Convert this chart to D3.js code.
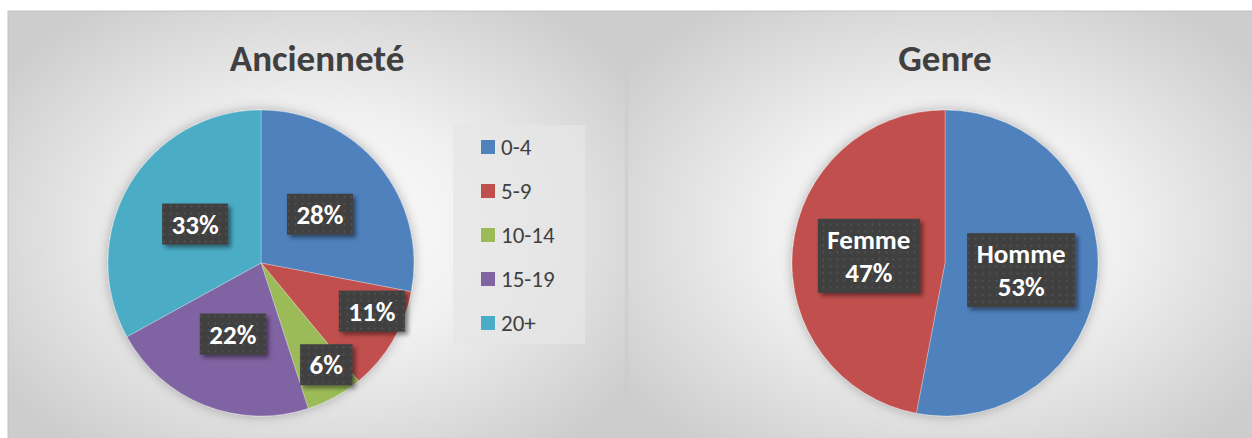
<!DOCTYPE html>
<html>
<head>
<meta charset="utf-8">
<script src="https://cdn.jsdelivr.net/npm/d3@7"></script>
<style>
  html, body { margin: 0; padding: 0; background: #ffffff; }
  svg { display: block; }
  text { font-family: Carlito, Calibri, Lato, "Open Sans", sans-serif; }
</style>
</head>
<body>
<div id="chart"></div>
<script>
// ---- data ----
const ancTitle = "Ancienneté";
const ancCategories = ["0-4", "5-9", "10-14", "15-19", "20+"];
const ancValues = [28, 11, 6, 22, 33];
const ancColors = ["#4f81bd", "#c0504d", "#9bbb59", "#8064a2", "#4bacc6"];

const genreTitle = "Genre";
const genreCategories = ["Homme", "Femme"];
const genreValues = [53, 47];
const genreColors = ["#4f81bd", "#c0504d"];

// ---- layout ----
const W = 1252, H = 438;
const svg = d3.select("#chart").append("svg").attr("width", W).attr("height", H);
const defs = svg.append("defs");

const grad = defs.append("radialGradient").attr("id", "bg")
  .attr("cx", "50%").attr("cy", "50%").attr("r", "62%");
grad.append("stop").attr("offset", "0%").attr("stop-color", "#ffffff");
grad.append("stop").attr("offset", "45%").attr("stop-color", "#f0f0f0");
grad.append("stop").attr("offset", "100%").attr("stop-color", "#cdcdcd");

const pat = defs.append("pattern").attr("id", "dots").attr("patternUnits", "userSpaceOnUse")
  .attr("width", 7).attr("height", 7);
pat.append("rect").attr("width", 7).attr("height", 7).attr("fill", "#404040");
pat.append("circle").attr("cx", 3.5).attr("cy", 3.5).attr("r", 0.9).attr("fill", "#575757");

const pieSh = defs.append("filter").attr("id", "pieShadow")
  .attr("x", "-20%").attr("y", "-20%").attr("width", "140%").attr("height", "140%");
pieSh.append("feDropShadow").attr("dx", 0).attr("dy", 0).attr("stdDeviation", 6)
  .attr("flood-color", "#000").attr("flood-opacity", 0.28);
const boxSh = defs.append("filter").attr("id", "boxShadow")
  .attr("x", "-30%").attr("y", "-30%").attr("width", "160%").attr("height", "160%");
boxSh.append("feDropShadow").attr("dx", 3).attr("dy", 3).attr("stdDeviation", 2.2)
  .attr("flood-color", "#000").attr("flood-opacity", 0.45);

const panels = [
  { x: 8, y: 11, w: 618, h: 440, tx: 317 },
  { x: 627, y: 11, w: 636, h: 440, tx: 945 }
];
panels.forEach(p => {
  svg.append("rect").attr("x", p.x).attr("y", p.y).attr("width", p.w).attr("height", p.h)
    .attr("fill", "url(#bg)").attr("stroke", "#c4c4c4").attr("stroke-width", 1);
});

const R = 153;
const pct = d3.format(".0%");

function drawPie(cx, cy, titleX, cats, vals, colors, title, twoLine) {
  const g = svg.append("g").attr("transform", `translate(${cx},${cy})`);
  const color = d3.scaleOrdinal().domain(cats).range(colors);
  const total = d3.sum(vals);
  const data = cats.map((c, i) => ({ cat: c, v: vals[i] }));
  const pie = d3.pie().value(d => d.v).sort(null).startAngle(0).endAngle(2 * Math.PI);
  const arcs = pie(data);
  const arc = d3.arc().innerRadius(0).outerRadius(R);

  const pg = g.append("g").attr("filter", "url(#pieShadow)");
  pg.selectAll("path").data(arcs).join("path")
    .attr("d", arc)
    .attr("fill", d => color(d.data.cat))
    .attr("stroke", "rgba(255,255,255,0.35)")
    .attr("stroke-width", 0.8);

  arcs.forEach(a => {
    const frac = a.data.v / total;
    let ang, rad;
    if (frac < 0.15) {
      ang = a.startAngle + (a.endAngle - a.startAngle) * 0.32;
      rad = R * 0.79;
    } else {
      ang = (a.startAngle + a.endAngle) / 2;
      rad = R * 0.5;
    }
    const lx = rad * Math.sin(ang), ly = -rad * Math.cos(ang);
    const lg = g.append("g").attr("transform", `translate(${lx},${ly})`);
    const lines = twoLine ? [a.data.cat, pct(frac)] : [pct(frac)];
    const lh = 33;
    const box = lg.append("rect").attr("fill", "url(#dots)").attr("filter", "url(#boxShadow)");
    const t = lg.append("text").attr("text-anchor", "middle")
      .attr("fill", "#ffffff").attr("font-weight", "bold").attr("font-size", 27);
    lines.forEach((s, i) => {
      t.append("tspan").attr("x", 0)
        .attr("y", (i - (lines.length - 1) / 2) * lh + 9.5)
        .text(s);
    });
    let tw = 0;
    t.selectAll("tspan").each(function () { tw = Math.max(tw, this.getComputedTextLength()); });
    const bw = tw + 19, bh = 41 + (lines.length - 1) * 33;
    box.attr("x", -bw / 2).attr("y", -bh / 2).attr("width", bw).attr("height", bh);
  });

  svg.append("text").attr("x", titleX).attr("y", 71)
    .attr("text-anchor", "middle").attr("font-weight", "bold").attr("font-size", 37)
    .attr("fill", "#404040").text(title);
  return color;
}

const ancColor = drawPie(261, 263, panels[0].tx, ancCategories, ancValues, ancColors, ancTitle, false);
drawPie(945, 263, panels[1].tx, genreCategories, genreValues, genreColors, genreTitle, true);

// legend
const lg = svg.append("g");
lg.append("rect").attr("x", 453).attr("y", 125).attr("width", 132).attr("height", 219)
  .attr("fill", "#e6e6e6").attr("opacity", 0.75);
const ly = d3.scalePoint().domain(ancCategories).range([147, 323]);
const items = lg.selectAll("g.item").data(ancCategories).join("g").attr("class", "item")
  .attr("transform", d => `translate(481,${ly(d)})`);
items.append("rect").attr("x", 0).attr("y", -7).attr("width", 14).attr("height", 14)
  .attr("fill", d => ancColor(d));
items.append("text").attr("x", 20).attr("y", 8).attr("font-size", 23)
  .attr("fill", "#404040").text(d => d);
</script>
</body>
</html>
